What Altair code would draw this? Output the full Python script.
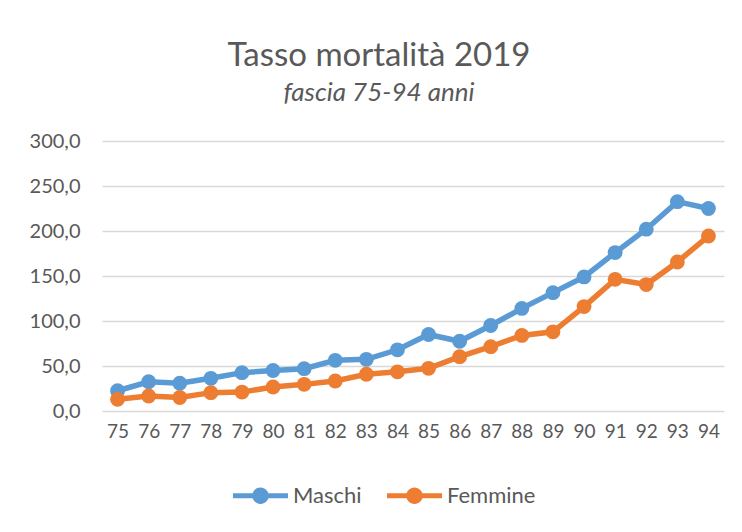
import altair as alt
import pandas as pd

years = [str(y) for y in range(75, 95)]
maschi = [22.5, 32.5, 30.8, 36.3, 42.6, 45.0, 47.0, 56.3, 57.4, 68.0,
          85.0, 77.5, 95.0, 114.0, 131.5, 149.0, 176.0, 202.0, 232.6, 225.0]
femmine = [13.0, 16.7, 15.0, 20.4, 21.0, 26.7, 29.6, 33.3, 40.8, 43.5,
           47.4, 60.4, 71.5, 84.0, 88.0, 116.0, 146.3, 140.5, 165.6, 194.4]
series = ["Maschi", "Femmine"]
colors = ["#5B9BD5", "#ED7D31"]
y_ticks = [0, 50, 100, 150, 200, 250, 300]

rows = []
for name, vals in zip(series, [maschi, femmine]):
    for yr, v in zip(years, vals):
        rows.append({"anno": yr, "valore": v, "serie": name})
df = pd.DataFrame(rows)

FONT = "Lato"
GREY = "#595959"

legend_path = ("M-1,-0.09 L1,-0.09 L1,0.09 L-1,0.09 Z "
               "M0.3,0 A0.3,0.3 0 1,1 -0.3,0 A0.3,0.3 0 1,1 0.3,0 Z")

x = alt.X("anno:O", sort=years, title=None,
          scale=alt.Scale(type="point", padding=0.5),
          axis=alt.Axis(labelAngle=0, ticks=False, domain=False, grid=False,
                        labelFont=FONT, labelFontSize=19, labelColor=GREY,
                        labelPadding=11))
y = alt.Y("valore:Q", title=None,
          scale=alt.Scale(domain=[0, 300], nice=False),
          axis=alt.Axis(values=y_ticks, ticks=False, domain=False,
                        gridColor="#D9D9D9", gridWidth=1.3,
                        labelExpr="replace(format(datum.value, '.1f'), '.', ',')",
                        labelFont=FONT, labelFontSize=20, labelColor=GREY,
                        labelPadding=22))
color = alt.Color("serie:N", sort=series,
                  scale=alt.Scale(domain=series, range=colors),
                  legend=alt.Legend(title=None, orient="none", direction="horizontal",
                                    legendX=131, legendY=327,
                                    symbolType=legend_path, symbolSize=3025,
                                    symbolStrokeWidth=0, symbolOpacity=1,
                                    labelFont=FONT, labelFontSize=22, labelColor=GREY,
                                    labelOffset=5, columnPadding=25))

base = alt.Chart(df)
lines = base.mark_line(strokeWidth=5.5).encode(x=x, y=y, color=color)
points = base.mark_circle(size=220, opacity=1).encode(x=x, y=y, color=color)

chart = alt.layer(lines, points).properties(
    width=622, height=270,
    autosize=alt.AutoSizeParams(type="none"),
    padding={"left": 94, "top": 133, "right": 10, "bottom": 110},
    title=alt.TitleParams(
        text="Tasso mortalità 2019", subtitle="fascia 75-94 anni",
        font=FONT, fontSize=33, fontWeight="normal", color=GREY,
        subtitleFont=FONT, subtitleFontSize=26, subtitleFontStyle="italic",
        subtitleColor=GREY, subtitlePadding=7,
        anchor="middle", dx=-34, offset=25),
).configure_view(stroke=None)

chart.save("out.html", embed_options={"renderer": "svg", "actions": False})
